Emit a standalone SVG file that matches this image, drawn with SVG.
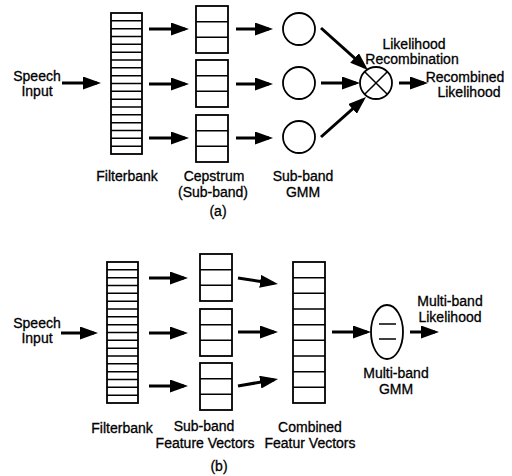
<svg xmlns="http://www.w3.org/2000/svg" width="512" height="476" viewBox="0 0 512 476">
<defs>
<marker id="ah" markerUnits="userSpaceOnUse" markerWidth="18" markerHeight="13" refX="14" refY="6.5" orient="auto">
<path d="M0,0 L18,6.5 L0,13 z" fill="#000"/>
</marker>
</defs>
<style>
.box{fill:#fff;stroke:#000;stroke-width:1.8}
.cell{fill:none;stroke:#000;stroke-width:1.5}
.arr{stroke:#000;stroke-width:3;fill:none;marker-end:url(#ah)}
text{font-family:"Liberation Sans",Arial,sans-serif;font-size:14px;fill:#000;stroke:#000;stroke-width:0.3;text-anchor:middle}
</style>
<rect width="512" height="476" fill="#fff"/>

<!-- (a) -->
<g id="a-speech"><text x="37" y="81">Speech</text><text x="37" y="96">Input</text></g>
<g id="a-filterbank">
<rect class="box" x="111" y="13" width="31" height="141"/>
<path class="cell" d="M111,20.83H142M111,28.67H142M111,36.5H142M111,44.33H142M111,52.17H142M111,60H142M111,67.83H142M111,75.67H142M111,83.5H142M111,91.33H142M111,99.17H142M111,107H142M111,114.83H142M111,122.67H142M111,130.5H142M111,138.33H142M111,146.17H142"/>
<text x="127" y="181">Filterbank</text>
</g>
<g id="a-cepstrum">
<rect class="box" x="196" y="6" width="32" height="47"/>
<rect class="box" x="196" y="60" width="32" height="47"/>
<rect class="box" x="196" y="115" width="32" height="47"/>
<path class="cell" d="M196,21.67H228M196,37.33H228M196,75.67H228M196,91.33H228M196,130.67H228M196,146.33H228"/>
<text x="214" y="181">Cepstrum</text><text x="213" y="197">(Sub-band)</text>
</g>
<g id="a-gmm">
<circle class="box" cx="299" cy="29" r="16"/>
<circle class="box" cx="299" cy="83" r="16"/>
<circle class="box" cx="299" cy="137" r="16"/>
<text x="303" y="181">Sub-band</text><text x="303" y="197">GMM</text>
</g>
<g id="a-recomb">
<circle class="box" cx="376" cy="83" r="16"/>
<path class="cell" d="M364.7,71.7L387.3,94.3M387.3,71.7L364.7,94.3"/>
<text x="414" y="49">Likelihood</text><text x="412" y="64">Recombination</text>
</g>
<g id="a-output"><text x="465" y="82">Recombined</text><text x="469" y="97">Likelihood</text></g>
<text x="218" y="216">(a)</text>

<!-- (b) -->
<g id="b-speech"><text x="37" y="328">Speech</text><text x="37" y="343">Input</text></g>
<g id="b-filterbank">
<rect class="box" x="107" y="262" width="31" height="141"/>
<path class="cell" d="M107,269.83H138M107,277.67H138M107,285.5H138M107,293.33H138M107,301.17H138M107,309H138M107,316.83H138M107,324.67H138M107,332.5H138M107,340.33H138M107,348.17H138M107,356H138M107,363.83H138M107,371.67H138M107,379.5H138M107,387.33H138M107,395.17H138"/>
<text x="122" y="433">Filterbank</text>
</g>
<g id="b-subband">
<rect class="box" x="200" y="254" width="32" height="47"/>
<rect class="box" x="200" y="309" width="32" height="47"/>
<rect class="box" x="200" y="363" width="32" height="47"/>
<path class="cell" d="M200,269.67H232M200,285.33H232M200,324.67H232M200,340.33H232M200,378.67H232M200,394.33H232"/>
<text x="204" y="431">Sub-band</text><text x="205" y="448">Feature Vectors</text>
</g>
<g id="b-combined">
<rect class="box" x="293" y="262" width="32" height="141"/>
<path class="cell" d="M293,277.67H325M293,293.33H325M293,309H325M293,324.67H325M293,340.33H325M293,356H325M293,371.67H325M293,387.33H325"/>
<text x="310" y="432">Combined</text><text x="310" y="448">Featur Vectors</text>
</g>
<g id="b-gmm">
<ellipse class="box" cx="387" cy="332" rx="16" ry="27"/>
<path class="cell" d="M379,324H396M379,339H396"/>
<text x="396" y="378">Multi-band</text><text x="396" y="394">GMM</text>
</g>
<g id="b-output"><text x="450" y="306">Multi-band</text><text x="450" y="322">Likelihood</text></g>
<text x="219" y="471">(b)</text>

<g id="connectors">
<line class="arr" x1="62" y1="83" x2="97" y2="83"/>
<line class="arr" x1="149" y1="29" x2="185" y2="29"/>
<line class="arr" x1="149" y1="84" x2="185" y2="84"/>
<line class="arr" x1="149" y1="138" x2="185" y2="138"/>
<line class="arr" x1="236" y1="29" x2="269" y2="29"/>
<line class="arr" x1="236" y1="84" x2="269" y2="84"/>
<line class="arr" x1="236" y1="138" x2="269" y2="138"/>
<line class="arr" x1="321" y1="28" x2="365" y2="67.3"/>
<line class="arr" x1="321" y1="83" x2="356" y2="83"/>
<line class="arr" x1="321" y1="137" x2="363" y2="99.7"/>
<line class="arr" x1="399" y1="83" x2="424" y2="83"/>

<line class="arr" x1="61" y1="333" x2="94" y2="333"/>
<line class="arr" x1="149" y1="278" x2="184" y2="278"/>
<line class="arr" x1="149" y1="333" x2="184" y2="333"/>
<line class="arr" x1="149" y1="386" x2="184" y2="386"/>
<line class="arr" x1="238" y1="278" x2="274" y2="283.4"/>
<line class="arr" x1="238" y1="332" x2="274" y2="332"/>
<line class="arr" x1="238" y1="386" x2="274.1" y2="379.7"/>
<line class="arr" x1="332" y1="332" x2="367" y2="332"/>
<line class="arr" x1="410" y1="332" x2="435" y2="332"/>
</g>
</svg>
